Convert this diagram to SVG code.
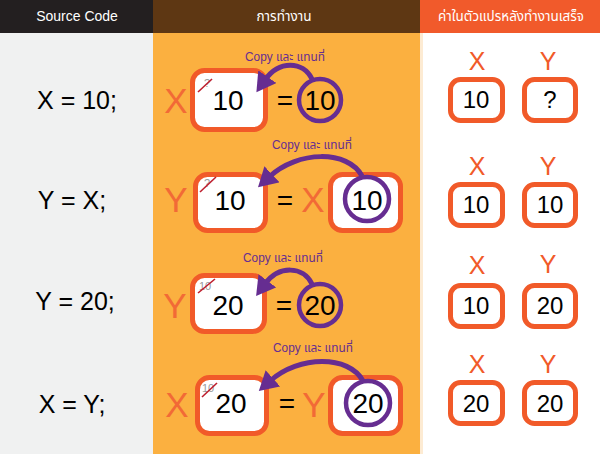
<svg xmlns="http://www.w3.org/2000/svg" width="600" height="454" viewBox="0 0 600 454">
<style>
.hd{font-family:"Liberation Sans","Noto Sans Thai",Arial,sans-serif;font-size:14px;fill:#ffffff;text-anchor:middle}
.code{font-family:"Liberation Sans",Arial,sans-serif;font-size:25px;fill:#000;text-anchor:middle}
.big{font-family:"Liberation Sans",Arial,sans-serif;font-size:35px;fill:#f26a36;text-anchor:middle}
.num{font-family:"Liberation Sans",Arial,sans-serif;font-size:28px;fill:#000;text-anchor:middle}
.rnum{font-family:"Liberation Sans",Arial,sans-serif;font-size:24px;fill:#000;text-anchor:middle}
.rlab{font-family:"Liberation Sans",Arial,sans-serif;font-size:25px;fill:#f15a29;text-anchor:middle}
.old{font-family:"Liberation Sans",Arial,sans-serif;font-size:11px;fill:#9a9a9a;text-anchor:middle}
.lab{font-family:"Liberation Sans","Noto Sans Thai",Arial,sans-serif;font-size:12px;fill:#662d91;text-anchor:middle}
.box{fill:#ffffff;stroke:#f15a29;stroke-width:5}
.circ{fill:none;stroke:#662d91;stroke-width:4.5}
.arc{fill:none;stroke:#662d91;stroke-width:5}
.slash{stroke:#be1e2d;stroke-width:1.6}
</style>
<defs>
<marker id="ah" markerUnits="userSpaceOnUse" markerWidth="22" markerHeight="22" refX="4" refY="11" orient="auto">
<path d="M0,0 L19,11 L0,22 z" fill="#662d91"/>
</marker>
</defs>
<g id="background">
<rect x="0" y="0" width="153" height="454" fill="#f0f1f1"/>
<rect x="153" y="0" width="267" height="454" fill="#fbb040"/>
<rect x="420" y="0" width="180" height="454" fill="#ffffff"/>
<rect x="420" y="33" width="3" height="421" fill="#fdebd3"/>
<rect x="0" y="0" width="153" height="33" fill="#231f20"/>
<rect x="153" y="0" width="267" height="33" fill="#5e3713"/>
<rect x="420" y="0" width="180" height="33" fill="#f15a2b"/>
</g>
<g id="headers">
<text class="hd" x="77" y="21">Source Code</text>
<text class="hd" x="284" y="21" textLength="55" lengthAdjust="spacingAndGlyphs">การทำงาน</text>
<text class="hd" x="511" y="21" textLength="146" lengthAdjust="spacingAndGlyphs">ค่าในตัวแปรหลังทำงานเสร็จ</text>
</g>
<g id="code">
<text class="code" x="77" y="109">X = 10;</text>
<text class="code" x="72" y="209">Y = X;</text>
<text class="code" x="75" y="310">Y = 20;</text>
<text class="code" x="72" y="413">X = Y;</text>
</g>
<g id="row1">
<text class="big" x="176" y="113">X</text>
<rect class="box" x="192.5" y="70.5" width="73" height="59" rx="12"/>
<text class="old" x="207" y="87">?</text>
<line class="slash" x1="198" y1="92" x2="212" y2="79"/>
<text class="num" x="228" y="110">10</text>
<text class="num" x="285" y="110">=</text>
<circle class="circ" cx="320" cy="100" r="21"/>
<text class="num" x="320" y="110">10</text>
<text class="lab" x="285" y="61" textLength="80" lengthAdjust="spacingAndGlyphs">Copy และ แทนที่</text>
</g>
<g id="row2">
<text class="big" x="176" y="212">Y</text>
<rect class="box" x="195.5" y="174.5" width="70" height="56" rx="12"/>
<text class="old" x="207" y="187">?</text>
<line class="slash" x1="200" y1="192" x2="216" y2="177"/>
<text class="num" x="230" y="210">10</text>
<text class="num" x="285" y="210">=</text>
<text class="big" x="313" y="212">X</text>
<rect class="box" x="330.5" y="174.5" width="70" height="56" rx="12"/>
<circle class="circ" cx="367" cy="199" r="22"/>
<text class="num" x="367" y="210">10</text>
<text class="lab" x="312" y="149" textLength="80" lengthAdjust="spacingAndGlyphs">Copy และ แทนที่</text>
</g>
<g id="row3">
<text class="big" x="175" y="318">Y</text>
<rect class="box" x="192.5" y="275.5" width="72" height="56" rx="12"/>
<text class="old" x="205" y="290">10</text>
<line class="slash" x1="198" y1="293" x2="215" y2="279"/>
<text class="num" x="228" y="315">20</text>
<text class="num" x="284" y="315">=</text>
<circle class="circ" cx="320" cy="305" r="21"/>
<text class="num" x="320" y="315">20</text>
<text class="lab" x="283" y="262" textLength="80" lengthAdjust="spacingAndGlyphs">Copy และ แทนที่</text>
</g>
<g id="row4">
<text class="big" x="177" y="417">X</text>
<rect class="box" x="197.5" y="377.5" width="69" height="56" rx="12"/>
<text class="old" x="208" y="392">10</text>
<line class="slash" x1="202" y1="397" x2="217" y2="383"/>
<text class="num" x="231" y="413">20</text>
<text class="num" x="287" y="413">=</text>
<text class="big" x="314" y="417">Y</text>
<rect class="box" x="330.5" y="377.5" width="70" height="56" rx="12"/>
<circle class="circ" cx="368" cy="403" r="22"/>
<text class="num" x="368" y="413">20</text>
<text class="lab" x="313" y="352" textLength="80" lengthAdjust="spacingAndGlyphs">Copy และ แทนที่</text>
</g>
<g id="connectors">
<path class="arc" d="M312,79 C303,61 279,60 265,80" marker-end="url(#ah)"/>
<path class="arc" d="M362,176 C348,150 298,150 269,177" marker-end="url(#ah)"/>
<path class="arc" d="M312,284 C303,266 279,265 265,284" marker-end="url(#ah)"/>
<path class="arc" d="M363,381 C349,355 299,355 270,381" marker-end="url(#ah)"/>
</g>
<g id="state1">
<text class="rlab" x="477" y="70">X</text>
<text class="rlab" x="548" y="70">Y</text>
<rect class="box" x="450.5" y="79.5" width="52" height="41" rx="10"/>
<rect class="box" x="524.5" y="79.5" width="51" height="41" rx="10"/>
<text class="rnum" x="476" y="108">10</text>
<text class="rnum" x="550" y="108">?</text>
</g>
<g id="state2">
<text class="rlab" x="477" y="175">X</text>
<text class="rlab" x="548" y="175">Y</text>
<rect class="box" x="450.5" y="184.5" width="52" height="41" rx="10"/>
<rect class="box" x="524.5" y="184.5" width="51" height="41" rx="10"/>
<text class="rnum" x="476" y="213">10</text>
<text class="rnum" x="550" y="213">10</text>
</g>
<g id="state3">
<text class="rlab" x="477" y="274">X</text>
<text class="rlab" x="548" y="273">Y</text>
<rect class="box" x="450.5" y="285.5" width="52" height="41" rx="10"/>
<rect class="box" x="524.5" y="285.5" width="51" height="41" rx="10"/>
<text class="rnum" x="476" y="314">10</text>
<text class="rnum" x="550" y="314">20</text>
</g>
<g id="state4">
<text class="rlab" x="477" y="373">X</text>
<text class="rlab" x="548" y="373">Y</text>
<rect class="box" x="450.5" y="382.5" width="52" height="41" rx="10"/>
<rect class="box" x="524.5" y="382.5" width="51" height="41" rx="10"/>
<text class="rnum" x="476" y="412">20</text>
<text class="rnum" x="550" y="412">20</text>
</g>
</svg>
